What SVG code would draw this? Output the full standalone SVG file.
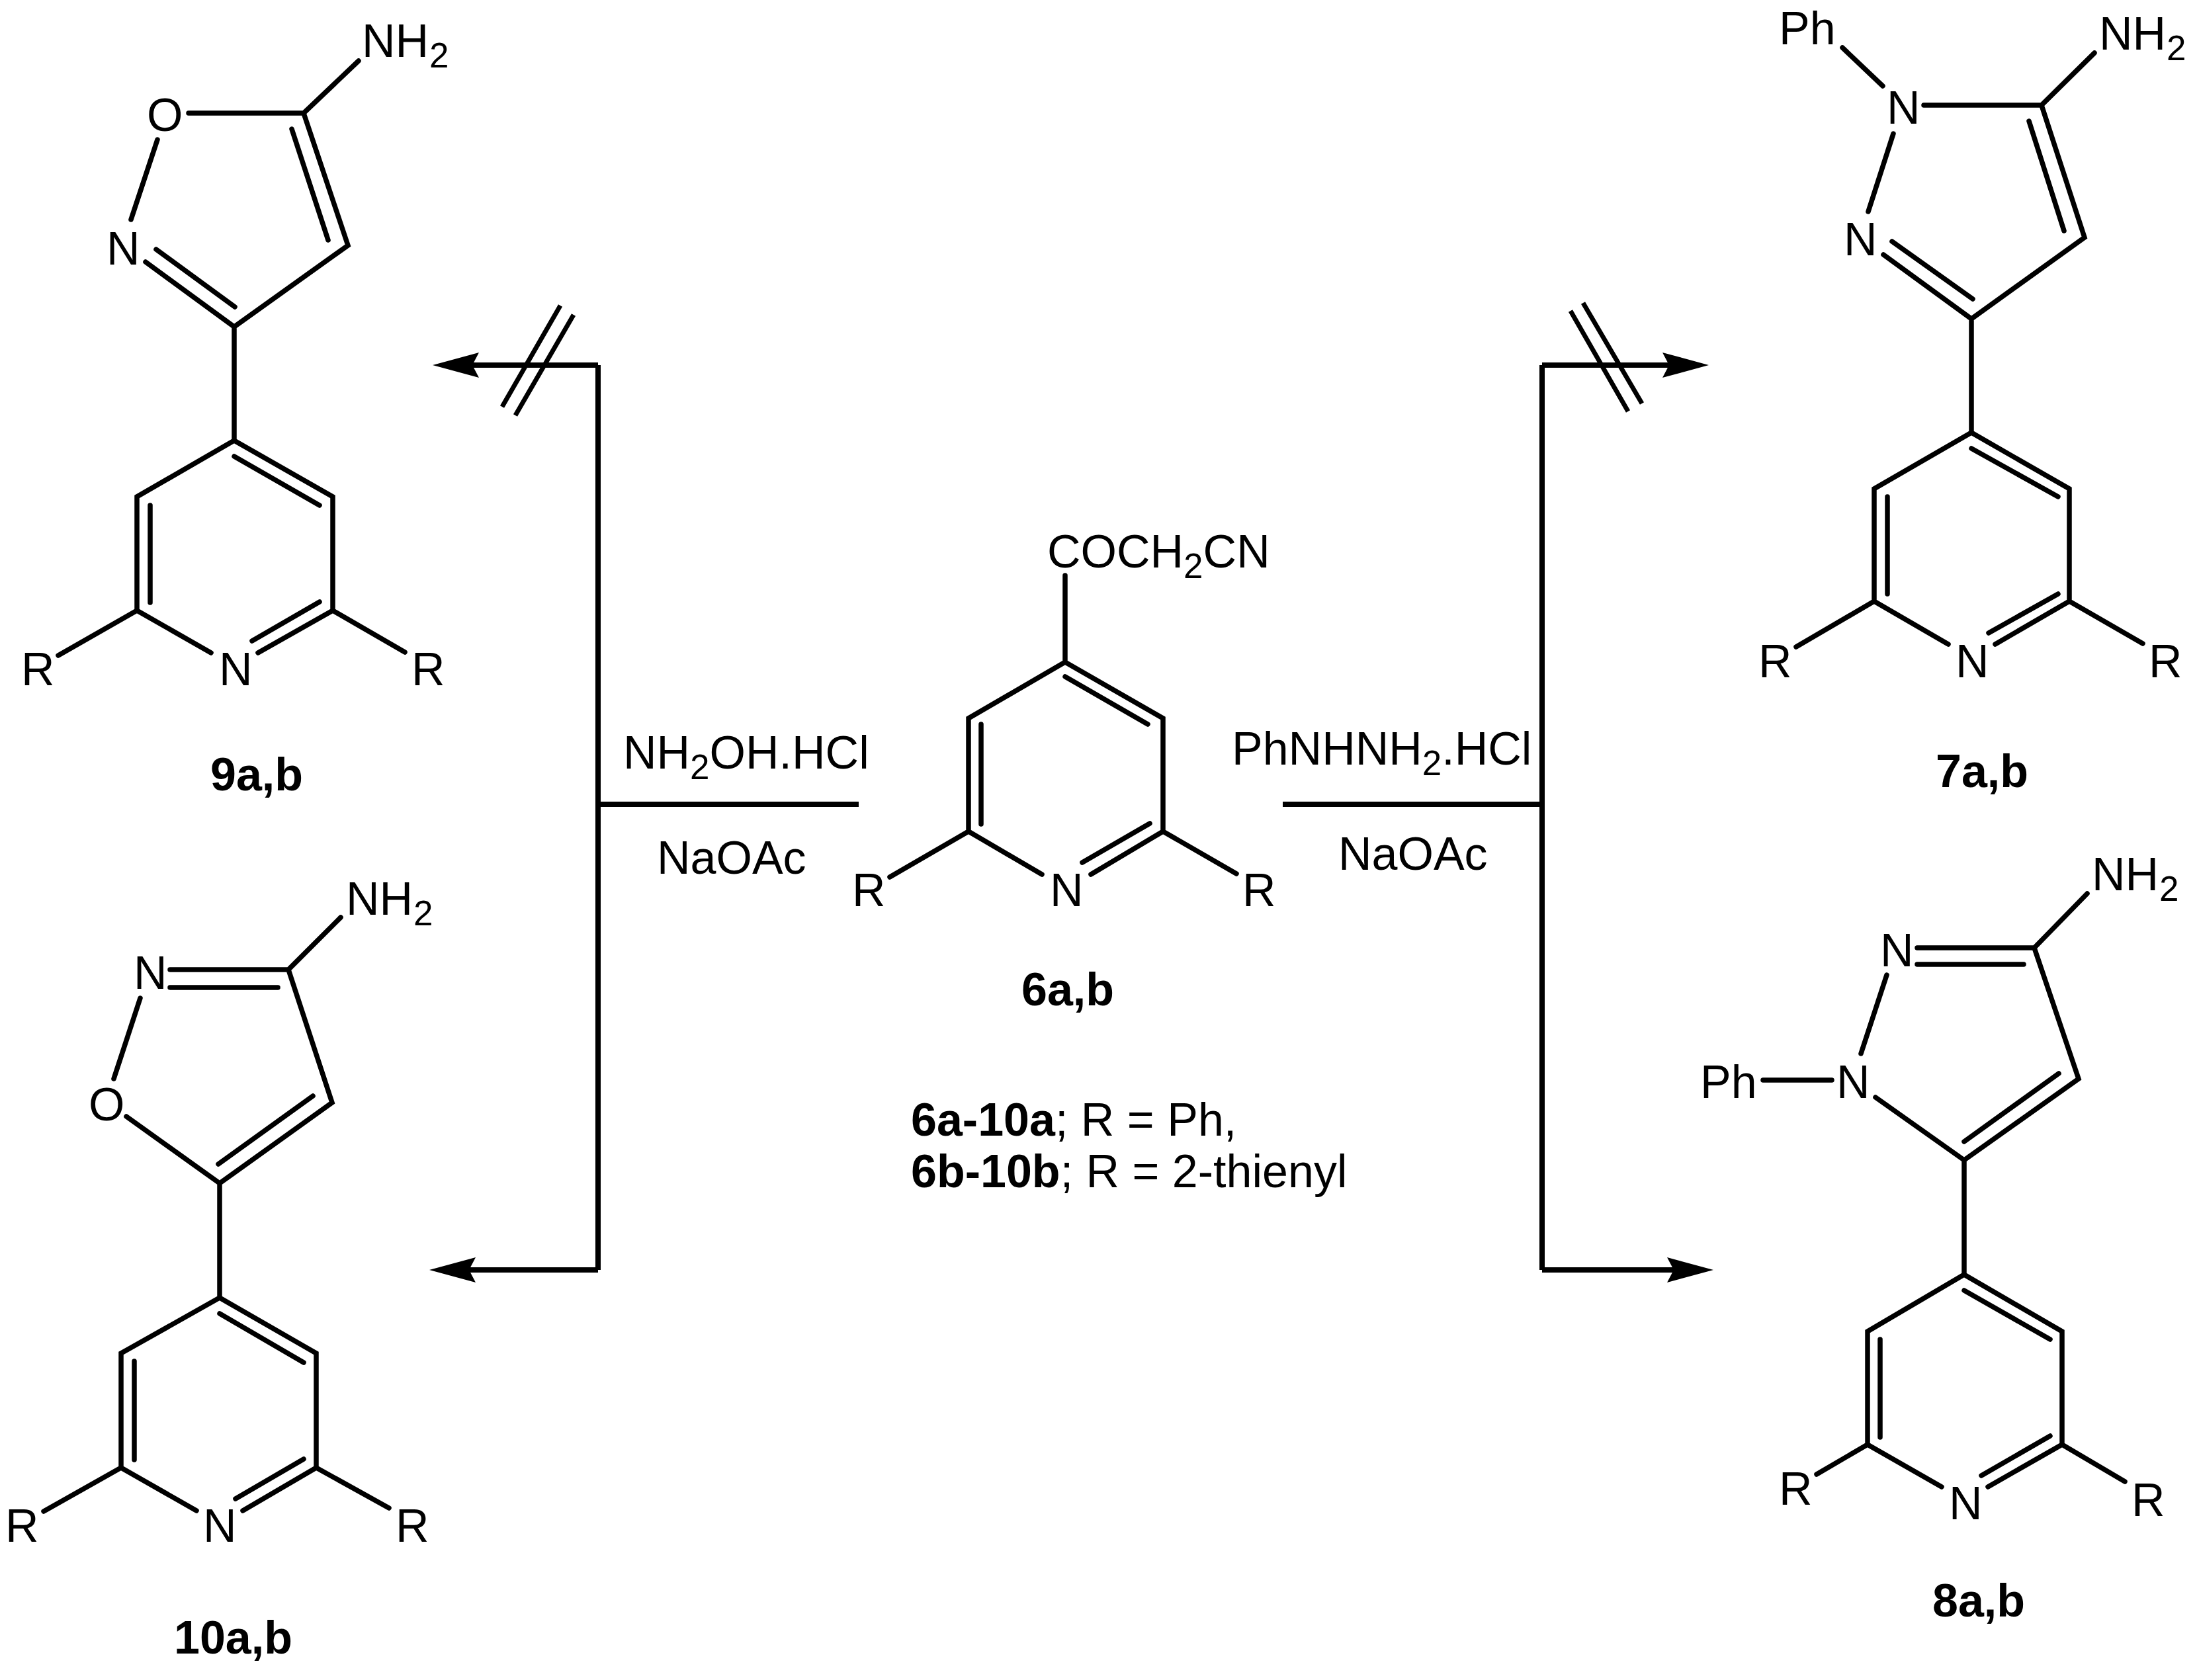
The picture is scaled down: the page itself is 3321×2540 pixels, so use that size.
<svg xmlns="http://www.w3.org/2000/svg" width="3321" height="2540" viewBox="0 0 3321 2540">
<style>
text{font-family:"Liberation Sans",Arial,sans-serif;font-size:70px;fill:#000}
.b{font-weight:bold}
.s{font-size:53px}
path{fill:none;stroke:#000;stroke-width:7.5;stroke-linecap:round;stroke-linejoin:miter}
.w{stroke-width:8;stroke-linecap:butt}
.st{stroke-width:7;stroke-linecap:butt}
.h{fill:#000;stroke:none}
</style>
<defs>
<marker id="ah" markerUnits="userSpaceOnUse" markerWidth="72" markerHeight="38" refX="10" refY="19" orient="auto" overflow="visible"><path class="h" d="M0,0 L70,19 L0,38 L10,19 Z"/></marker>
</defs>
<rect width="3321" height="2540" fill="#fff"/>
<g id="connectors">
<path class="w" d="M904,552 V1920"/>
<path class="w" d="M904,1216 H1298"/>
<path class="w" d="M904,552 H714" marker-end="url(#ah)"/>
<path class="w" d="M904,1920 H709" marker-end="url(#ah)"/>
<path class="st" d="M847,462 L759,615 M867,476 L779,628"/>
<path class="w" d="M2331,552 V1920"/>
<path class="w" d="M1939,1216 H2331"/>
<path class="w" d="M2331,552 H2523" marker-end="url(#ah)"/>
<path class="w" d="M2331,1920 H2530" marker-end="url(#ah)"/>
<path class="st" d="M2374,470 L2461,622 M2393,458 L2482,610"/>
</g>
<g id="compound-6">
<path d="M1610,870 V1001 M1610,1001 L1464,1086 V1257 L1575,1322 M1610,1001 L1758,1086 V1257 L1649,1322 M1610,1023 L1735,1095 M1483,1095 V1246 M1738,1245 L1636,1304 M1464,1257 L1345,1326 M1758,1257 L1869,1321"/>
<text x="1583" y="858">COCH<tspan class="s" dy="16">2</tspan><tspan dy="-16">CN</tspan></text>
<text x="1288" y="1370">R</text><text x="1587" y="1370">N</text><text x="1878" y="1370">R</text>
<text class="b" x="1544" y="1520">6a,b</text>
</g>
<g id="conditions-left">
<text x="942" y="1162">NH<tspan class="s" dy="16">2</tspan><tspan dy="-16">OH.HCl</tspan></text>
<text x="993" y="1321">NaOAc</text>
</g>
<g id="conditions-right">
<text x="1862" y="1156">PhNHNH<tspan class="s" dy="16">2</tspan><tspan dy="-16">.HCl</tspan></text>
<text x="2023" y="1315">NaOAc</text>
</g>
<g id="legend">
<text x="1377" y="1717"><tspan class="b">6a-10a</tspan>; R = Ph,</text>
<text x="1377" y="1795"><tspan class="b">6b-10b</tspan>; R = 2-thienyl</text>
</g>
<g id="compound-9">
<path d="M542,92 L459,171 M285,171 H459 L526,371 L354,494 L220,396 M441,195 L496,363 M355,464 L236,377 M238,211 L198,332 M354,494 V666 L503,751 V923 L390,987 M354,666 L207,751 V923 L319,987 M354,690 L483,764 M227,764 V911 M483,910 L381,969 M207,923 L88,991 M503,923 L612,986"/>
<text x="547" y="86">NH<tspan class="s" dx="1" dy="16">2</tspan></text>
<text x="222" y="198">O</text><text x="161" y="400">N</text>
<text x="32" y="1036">R</text><text x="331" y="1036">N</text><text x="622" y="1036">R</text>
<text class="b" x="318" y="1195">9a,b</text>
</g>
<g id="compound-7">
<path d="M2785,72 L2846,130 M2908,159 H3086 L3166,80 M3086,159 L3151,359 L2980,482 L2847,385 M3067,183 L3120,349 M2982,452 L2860,365 M2862,202 L2824,320 M2980,482 V654 L3128,739 V909 L3016,974 M2980,654 L2833,739 V909 L2945,974 M2980,678 L3111,751 M2853,751 V898 M3111,898 L3006,957 M2833,909 L2715,978 M3128,909 L3239,973"/>
<text x="2689" y="67">Ph</text>
<text x="3173" y="75">NH<tspan class="s" dx="1" dy="16">2</tspan></text>
<text x="2852" y="187">N</text><text x="2787" y="386">N</text>
<text x="2658" y="1024">R</text><text x="2956" y="1024">N</text><text x="3248" y="1024">R</text>
<text class="b" x="2926" y="1190">7a,b</text>
</g>
<g id="compound-10">
<path d="M515,1387 L436,1466 H257 M420,1493 H257 M212,1509 L172,1631 M191,1688 L332,1789 L502,1667 L436,1466 M330,1760 L473,1657 M332,1789 V1962 L478,2046 V2219 L367,2284 M332,1962 L183,2046 V2219 L297,2284 M332,1986 L459,2060 M203,2058 V2207 M459,2206 L356,2266 M183,2219 L66,2285 M478,2219 L588,2280"/>
<text x="523" y="1383">NH<tspan class="s" dx="1" dy="16">2</tspan></text>
<text x="202" y="1495">N</text><text x="134" y="1694">O</text>
<text x="8" y="2331">R</text><text x="307" y="2331">N</text><text x="598" y="2331">R</text>
<text class="b" x="263" y="2500">10a,b</text>
</g>
<g id="compound-8">
<path d="M3155,1351 L3075,1433 H2898 M3059,1458 H2898 M2852,1474 L2813,1593 M2665,1633 H2769 M2835,1659 L2969,1754 L3142,1631 L3075,1433 M2969,1726 L3112,1623 M2969,1754 V1927 L3117,2013 V2184 L3005,2248 M2969,1927 L2823,2013 V2184 L2935,2248 M2969,1951 L3099,2025 M2842,2025 V2173 M3099,2171 L2995,2231 M2823,2184 L2746,2229 M3117,2184 L3212,2240"/>
<text x="3162" y="1346">NH<tspan class="s" dx="1" dy="16">2</tspan></text>
<text x="2842" y="1461">N</text><text x="2776" y="1660">N</text><text x="2570" y="1660">Ph</text>
<text x="2689" y="2275">R</text><text x="2946" y="2297">N</text><text x="3222" y="2292">R</text>
<text class="b" x="2921" y="2444">8a,b</text>
</g>
</svg>
